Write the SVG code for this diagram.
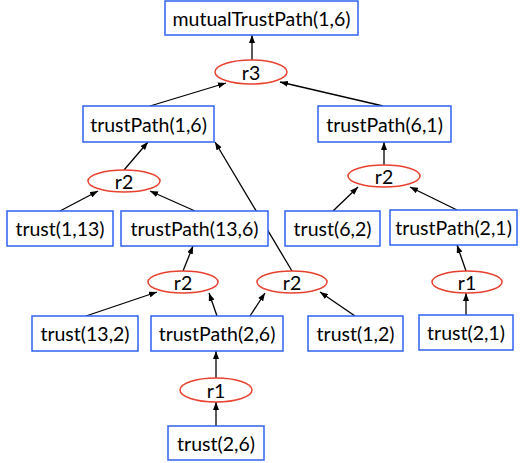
<svg xmlns="http://www.w3.org/2000/svg" width="520" height="463" viewBox="0 0 520 463">
<style>
.box{fill:#fff;stroke:#2f62f0;stroke-width:1.5}
.rule{fill:#fff;stroke:#e8412f;stroke-width:1.5}
.t{font-family:Lato,"Open Sans",sans-serif;font-size:19.5px;fill:#000;text-anchor:middle;dominant-baseline:central}
.c line{stroke:#000;stroke-width:1.3;fill:none}
.c .a{marker-end:url(#ah)}
</style>
<defs>
<marker id="ah" viewBox="0 0 8 6" refX="8" refY="3" markerWidth="8" markerHeight="6" markerUnits="userSpaceOnUse" orient="auto">
<path d="M0,0 L8,3 L0,6 Z" fill="#000"/>
</marker>
</defs>
<g id="connectors" class="c">
<line class="a" x1="252" y1="60" x2="252" y2="35"/>
<line class="a" x1="150" y1="106" x2="226" y2="83"/>
<line class="a" x1="383" y1="106" x2="280" y2="82"/>
<line class="a" x1="124" y1="170" x2="148" y2="142"/>
<line class="a" x1="292" y1="271" x2="215" y2="142"/>
<line class="a" x1="384" y1="165" x2="384" y2="142"/>
<line class="a" x1="60" y1="211" x2="98" y2="191"/>
<line class="a" x1="195" y1="211" x2="150" y2="191"/>
<line class="a" x1="333" y1="211" x2="358" y2="187"/>
<line class="a" x1="457" y1="210" x2="410" y2="187"/>
<line class="a" x1="183" y1="271" x2="193" y2="246"/>
<line class="a" x1="466" y1="271" x2="457" y2="245"/>
<line class="a" x1="86" y1="316" x2="157" y2="292"/>
<line class="a" x1="217" y1="316" x2="209" y2="293"/>
<line class="a" x1="250" y1="316" x2="265" y2="293"/>
<line class="a" x1="355" y1="316" x2="320" y2="292"/>
<line class="a" x1="466" y1="315" x2="466" y2="293"/>
<line class="a" x1="216" y1="378" x2="216" y2="351"/>
<line class="a" x1="216" y1="426" x2="216" y2="402"/>
</g>
<g id="n-mutual"><rect class="box" x="165" y="1" width="193" height="34"/><text class="t" x="261.5" y="18">mutualTrustPath(1,6)</text></g>
<g id="n-r3"><ellipse class="rule" cx="251" cy="72" rx="36" ry="12"/><text class="t" x="251" y="72">r3</text></g>
<g id="n-tp16"><rect class="box" x="83" y="106" width="131" height="36"/><text class="t" x="148.5" y="124">trustPath(1,6)</text></g>
<g id="n-tp61"><rect class="box" x="318" y="106" width="133" height="36"/><text class="t" x="384.5" y="124">trustPath(6,1)</text></g>
<g id="n-r2a"><ellipse class="rule" cx="124" cy="181" rx="36" ry="11"/><text class="t" x="124" y="181">r2</text></g>
<g id="n-r2b"><ellipse class="rule" cx="384" cy="176" rx="36" ry="11"/><text class="t" x="384" y="176">r2</text></g>
<g id="n-t113"><rect class="box" x="7" y="211" width="106" height="35"/><text class="t" x="60" y="228.5">trust(1,13)</text></g>
<g id="n-tp136"><rect class="box" x="121" y="211" width="147" height="35"/><text class="t" x="194.5" y="228.5">trustPath(13,6)</text></g>
<g id="n-t62"><rect class="box" x="285" y="211" width="95" height="35"/><text class="t" x="332.5" y="228.5">trust(6,2)</text></g>
<g id="n-tp21"><rect class="box" x="390" y="210" width="127" height="35"/><text class="t" x="453.5" y="227.5">trustPath(2,1)</text></g>
<g id="n-r2c"><ellipse class="rule" cx="183" cy="282" rx="35" ry="11"/><text class="t" x="183" y="282">r2</text></g>
<g id="n-r2d"><ellipse class="rule" cx="292" cy="282" rx="35" ry="11"/><text class="t" x="292" y="282">r2</text></g>
<g id="n-r1a"><ellipse class="rule" cx="467" cy="282" rx="35" ry="11"/><text class="t" x="467" y="282">r1</text></g>
<g id="n-t132"><rect class="box" x="32" y="316" width="106" height="35"/><text class="t" x="85" y="333.5">trust(13,2)</text></g>
<g id="n-tp26"><rect class="box" x="151" y="316" width="132" height="35"/><text class="t" x="217" y="333.5">trustPath(2,6)</text></g>
<g id="n-t12"><rect class="box" x="308" y="316" width="95" height="35"/><text class="t" x="355.5" y="333.5">trust(1,2)</text></g>
<g id="n-t21"><rect class="box" x="419" y="315" width="94" height="35"/><text class="t" x="466" y="332.5">trust(2,1)</text></g>
<g id="n-r1b"><ellipse class="rule" cx="216" cy="390" rx="36" ry="12"/><text class="t" x="216" y="390">r1</text></g>
<g id="n-t26"><rect class="box" x="168" y="426" width="96" height="34"/><text class="t" x="216" y="443">trust(2,6)</text></g>
</svg>
